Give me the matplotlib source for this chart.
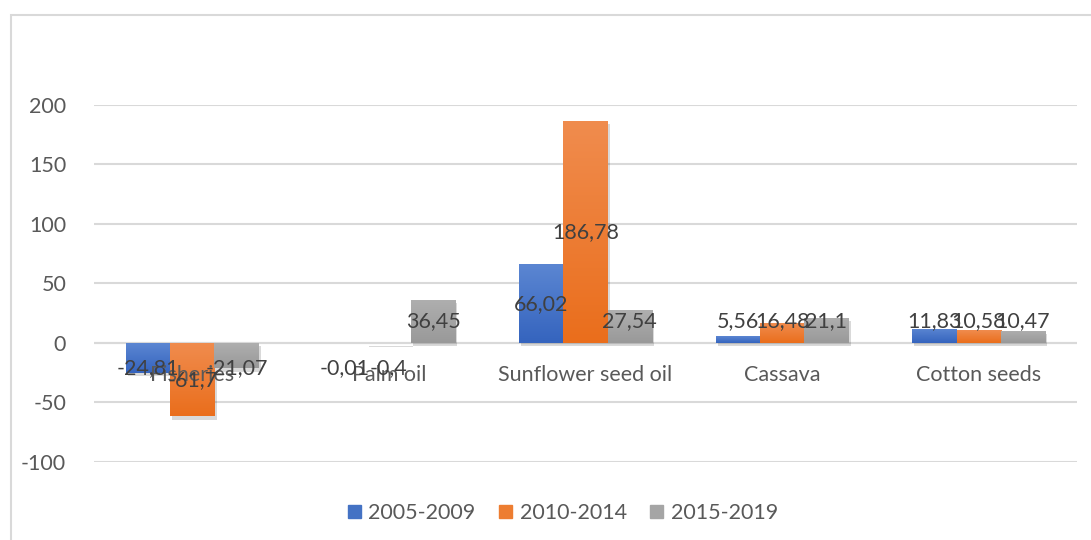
import numpy as np
import matplotlib.pyplot as plt
import matplotlib.patheffects as pe
from matplotlib.colors import LinearSegmentedColormap
from matplotlib.patches import Rectangle, Patch

plt.rcParams['font.family'] = ['Lato', 'DejaVu Sans']
plt.rcParams['axes.unicode_minus'] = False

# data
categories = ['Fisheries', 'Palm oil', 'Sunflower seed oil', 'Cassava', 'Cotton seeds']
periods = ['2005-2009', '2010-2014', '2015-2019']
v_2005_2009 = [-24.81, -0.01, 66.02, 5.56, 11.83]
v_2010_2014 = [-61.7, -0.4, 186.78, 16.48, 10.58]
v_2015_2019 = [-21.07, 36.45, 27.54, 21.1, 10.47]
series = [v_2005_2009, v_2010_2014, v_2015_2019]

# base colour, top of gradient, bottom of gradient
colors = ['#4472C4', '#ED7D31', '#A5A5A5']
grad_top = ['#5B86D2', '#F08C4E', '#AFAFAF']
grad_bot = ['#3564BE', '#EA6E1C', '#999999']

fs = 15.5

fig = plt.figure(figsize=(10.91, 5.40), dpi=100)
ax = fig.add_axes([94/1091, 1-462/540, 983/1091, 357/540])

# chart border (Excel chart area)
fig.patches.append(Rectangle((11/1091, -0.2), 2, 1-15/540+0.2, transform=fig.transFigure,
                             fill=False, edgecolor='#D9D9D9', lw=1.5))

x = np.arange(len(categories))
width = 0.225

for i, vals in enumerate(series):
    bars = ax.bar(x + (i-1)*width, vals, width, color=colors[i], zorder=3,
                  path_effects=[pe.SimplePatchShadow(offset=(1.5, -2.5), alpha=0.15, shadow_rgbFace='black'),
                                pe.Normal()])
    cmap = LinearSegmentedColormap.from_list('g%d' % i, [grad_top[i], grad_bot[i]])
    for b in bars:
        x0, x1 = b.get_x(), b.get_x() + b.get_width()
        y0, y1 = sorted([b.get_y(), b.get_y() + b.get_height()])
        if y1 - y0 < 1e-6:
            continue
        im = ax.imshow(np.linspace(0, 1, 100).reshape(-1, 1), cmap=cmap, aspect='auto',
                       extent=[x0, x1, y0, y1], origin='upper', zorder=3.5)
        im.set_clip_path(b)
    for xi, v in zip(x + (i-1)*width, vals):
        yl = max(v/2, 18.5) if v >= 0 else min(v/2, -21)
        ax.text(xi, yl, str(v).replace('.', ','), ha='center', va='center',
                fontsize=fs, color='#404040', zorder=5)

# category labels next to zero line
for xi, c in zip(x, categories):
    ax.annotate(c, (xi, 0), xytext=(0, -23), textcoords='offset points',
                ha='center', va='center', fontsize=fs, color='#595959', zorder=4)

ax.set_xlim(-0.5, len(categories)-0.5)
ax.set_ylim(-100, 200)
ax.set_yticks(np.arange(-100, 201, 50))
ax.set_xticks([])
ax.tick_params(axis='y', length=0, labelsize=fs, labelcolor='#595959', pad=20)
ax.grid(axis='y', color='#D9D9D9', lw=1.5, zorder=0)
ax.axhline(0, color='#D9D9D9', lw=1.5, zorder=1)
for s in ax.spines.values():
    s.set_visible(False)

handles = [Patch(color=c) for c in colors]
fig.legend(handles, periods, loc='center', bbox_to_anchor=(563/1091, 1-513/540), ncol=3,
           frameon=False, fontsize=fs, labelcolor='#595959', handlelength=0.6,
           handleheight=0.6, handletextpad=0.35, columnspacing=1.1)

fig.savefig('out.png', dpi=100)
